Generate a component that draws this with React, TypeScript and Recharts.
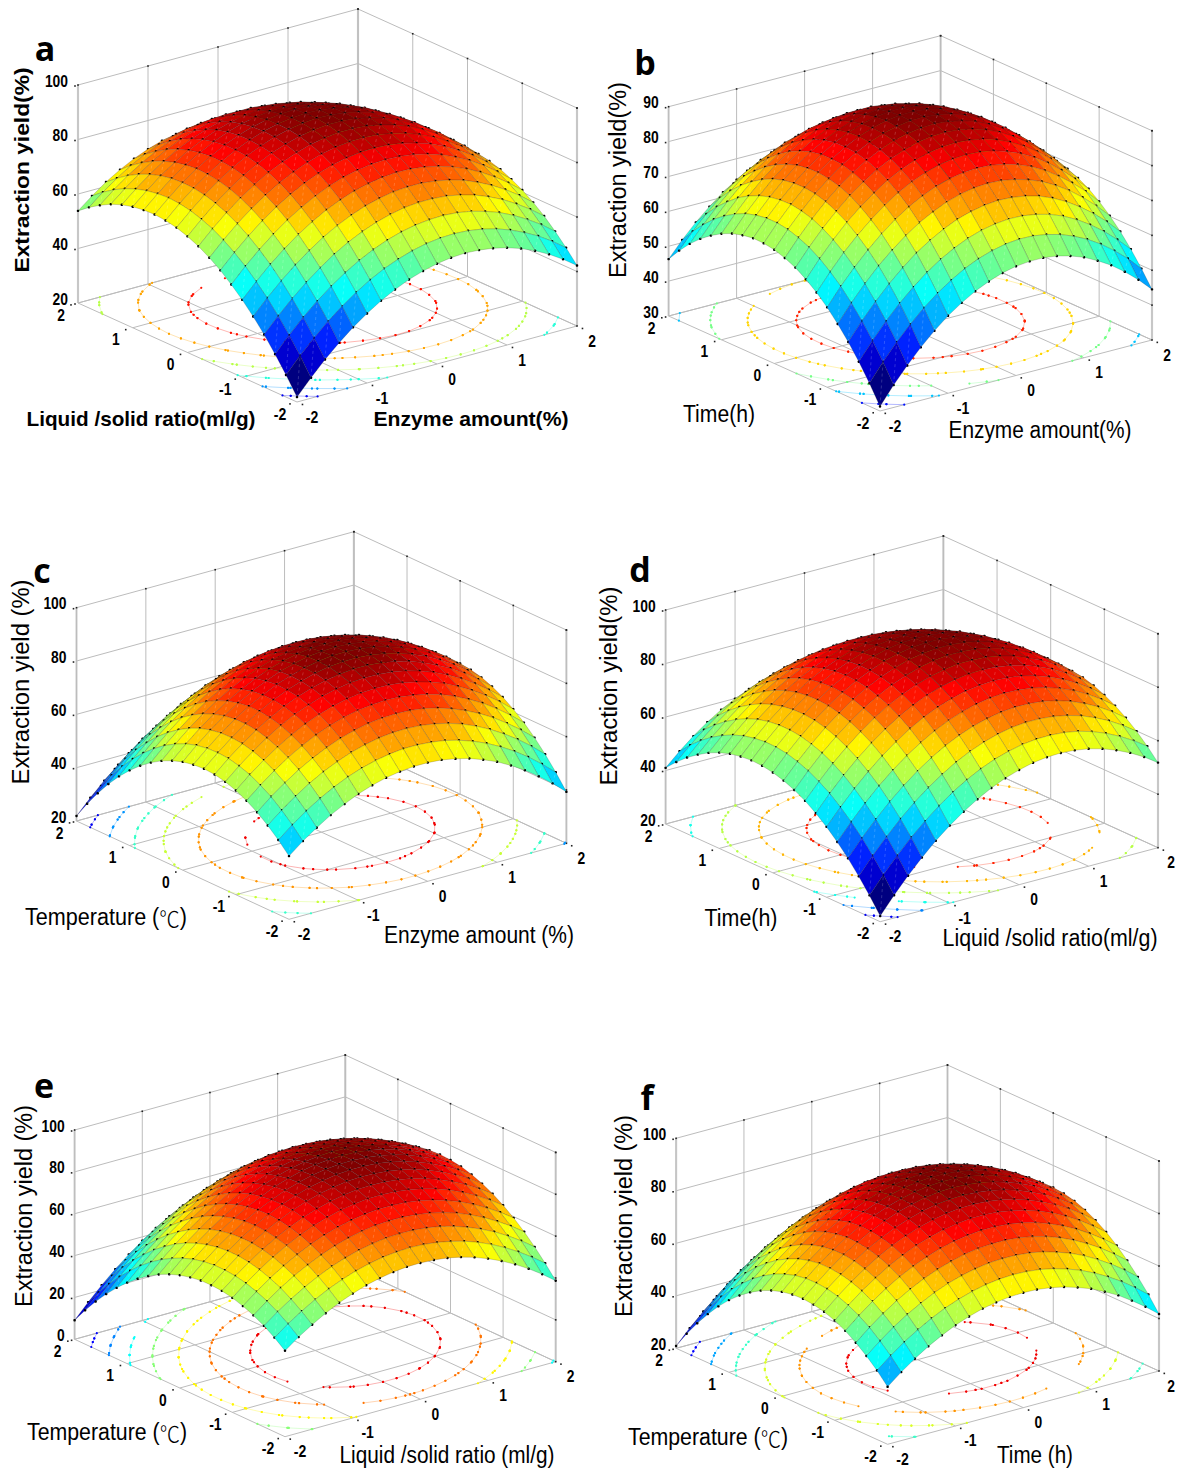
import { ScatterChart, Scatter, XAxis, YAxis } from "recharts";

const gridValues = [-2, -1.8, -1.6, -1.4, -1.2, -1, -0.8, -0.6, -0.4, -0.2, 0, 0.2, 0.4, 0.6, 0.8, 1, 1.2, 1.4, 1.6, 1.8, 2];
const axisTicks = [-2, -1, 0, 1, 2];

// extraction yield, one row per value of the left floor axis
const zA = [
  [21.8,27.5,32.8,37.5,41.8,45.5,48.8,51.5,53.8,55.5,56.8,57.6,57.9,57.6,56.9,55.7,54.0,51.8,49.1,45.9,42.2],
  [28.1,33.8,38.9,43.6,47.7,51.4,54.6,57.3,59.4,61.1,62.3,63.0,63.2,62.9,62.1,60.8,59.0,56.7,54.0,50.7,46.9],
  [33.9,39.5,44.6,49.2,53.2,56.8,59.9,62.5,64.6,66.2,67.3,67.9,68.1,67.7,66.8,65.4,63.6,61.2,58.3,55.0,51.1],
  [39.3,44.7,49.7,54.2,58.2,61.8,64.8,67.3,69.3,70.8,71.9,72.4,72.4,72.0,71.0,69.6,67.6,65.2,62.2,58.8,54.9],
  [44.1,49.5,54.4,58.8,62.7,66.2,69.1,71.5,73.5,74.9,75.9,76.3,76.3,75.7,74.7,73.2,71.1,68.6,65.6,62.1,58.1],
  [48.4,53.7,58.6,62.9,66.8,70.1,73.0,75.3,77.2,78.5,79.4,79.8,79.7,79.0,77.9,76.3,74.2,71.6,68.5,64.9,60.8],
  [52.2,57.5,62.2,66.5,70.3,73.5,76.3,78.6,80.4,81.6,82.4,82.7,82.5,81.8,80.6,78.9,76.7,74.1,70.9,67.2,63.0],
  [55.6,60.7,65.4,69.6,73.3,76.5,79.2,81.4,83.1,84.3,85.0,85.2,84.9,84.1,82.8,81.1,78.8,76.0,72.8,69.0,64.8],
  [58.4,63.5,68.1,72.2,75.8,78.9,81.5,83.6,85.3,86.4,87.0,87.1,86.8,85.9,84.6,82.7,80.4,77.5,74.2,70.3,66.0],
  [60.8,65.8,70.3,74.3,77.8,80.9,83.4,85.4,87.0,88.0,88.6,88.6,88.2,87.2,85.8,83.9,81.4,78.5,75.1,71.2,66.8],
  [62.6,67.5,72.0,75.9,79.4,82.3,84.8,86.7,88.2,89.1,89.6,89.6,89.1,88.0,86.5,84.5,82.0,79.0,75.5,71.5,67.0],
  [64.0,68.8,73.2,77.0,80.4,83.3,85.6,87.5,88.9,89.8,90.2,90.0,89.4,88.3,86.7,84.7,82.1,79.0,75.4,71.3,66.8],
  [64.8,69.6,73.9,77.6,80.9,83.7,86.0,87.8,89.1,89.9,90.2,90.0,89.3,88.2,86.5,84.3,81.6,78.5,74.8,70.7,66.0],
  [65.2,69.9,74.1,77.8,81.0,83.7,85.9,87.6,88.8,89.5,89.8,89.5,88.7,87.5,85.7,83.5,80.7,77.5,73.7,69.5,64.8],
  [65.0,69.6,73.8,77.4,80.5,83.1,85.3,86.9,88.0,88.7,88.8,88.5,87.6,86.3,84.5,82.1,79.3,76.0,72.2,67.8,63.0],
  [64.4,68.9,73.0,76.5,79.6,82.1,84.2,85.7,86.8,87.3,87.4,87.0,86.1,84.6,82.7,80.3,77.4,74.0,70.1,65.7,60.8],
  [63.3,67.7,71.7,75.1,78.1,80.6,82.5,84.0,85.0,85.5,85.5,85.0,84.0,82.5,80.5,78.0,75.0,71.5,67.5,63.0,58.1],
  [61.7,66.0,69.9,73.3,76.2,78.6,80.4,81.8,82.7,83.1,83.1,82.5,81.4,79.8,77.7,75.2,72.1,68.5,64.5,59.9,54.9],
  [59.5,63.8,67.6,70.9,73.7,76.0,77.8,79.2,80.0,80.3,80.1,79.5,78.3,76.6,74.5,71.8,68.7,65.0,60.9,56.3,51.1],
  [56.9,61.1,64.8,68.1,70.8,73.0,74.7,76.0,76.7,77.0,76.7,76.0,74.7,73.0,70.7,68.0,64.8,61.1,56.8,52.1,46.9],
  [53.8,57.9,61.6,64.7,67.4,69.5,71.2,72.3,73.0,73.1,72.8,72.0,70.7,68.8,66.5,63.7,60.4,56.6,52.3,47.5,42.2],
];

const zB = [
  [31.3,36.4,41.0,45.2,48.9,52.2,54.9,57.2,59.0,60.4,61.3,61.7,61.7,61.2,60.2,58.8,56.8,54.5,51.6,48.3,44.5],
  [36.6,41.7,46.3,50.4,54.1,57.3,60.0,62.3,64.1,65.4,66.3,66.7,66.6,66.0,65.0,63.5,61.6,59.2,56.3,53.0,49.1],
  [41.4,46.4,51.0,55.1,58.7,61.9,64.6,66.8,68.6,69.9,70.7,71.1,71.0,70.4,69.4,67.9,65.9,63.4,60.5,57.1,53.3],
  [45.7,50.7,55.2,59.3,62.9,66.1,68.7,70.9,72.7,73.9,74.7,75.1,74.9,74.3,73.3,71.7,69.7,67.2,64.3,60.9,57.0],
  [49.5,54.5,59.0,63.1,66.6,69.7,72.4,74.5,76.3,77.5,78.3,78.6,78.4,77.7,76.6,75.1,73.0,70.5,67.5,64.1,60.2],
  [52.9,57.9,62.3,66.3,69.9,73.0,75.6,77.7,79.4,80.6,81.3,81.6,81.4,80.7,79.6,78.0,75.9,73.3,70.3,66.9,62.9],
  [55.8,60.7,65.2,69.1,72.6,75.7,78.3,80.4,82.0,83.2,83.9,84.1,83.9,83.2,82.0,80.4,78.3,75.7,72.6,69.1,65.2],
  [58.2,63.1,67.5,71.5,74.9,77.9,80.5,82.6,84.2,85.3,86.0,86.2,85.9,85.2,84.0,82.3,80.2,77.6,74.5,70.9,66.9],
  [60.2,65.0,69.4,73.3,76.8,79.7,82.2,84.3,85.8,87.0,87.6,87.8,87.5,86.7,85.5,83.8,81.6,79.0,75.8,72.3,68.2],
  [61.6,66.4,70.8,74.7,78.1,81.0,83.5,85.5,87.1,88.1,88.7,88.9,88.5,87.7,86.5,84.7,82.5,79.9,76.7,73.1,69.1],
  [62.6,67.4,71.7,75.6,78.9,81.9,84.3,86.3,87.8,88.8,89.4,89.5,89.1,88.3,87.0,85.3,83.0,80.3,77.1,73.5,69.4],
  [63.1,67.9,72.2,76.0,79.3,82.2,84.6,86.6,88.0,89.1,89.6,89.7,89.3,88.4,87.1,85.3,83.0,80.3,77.1,73.4,69.3],
  [63.2,67.9,72.1,75.9,79.2,82.1,84.5,86.4,87.8,88.8,89.3,89.4,88.9,88.0,86.7,84.8,82.6,79.8,76.5,72.8,68.7],
  [62.7,67.4,71.6,75.4,78.7,81.5,83.8,85.7,87.1,88.1,88.6,88.6,88.1,87.2,85.8,83.9,81.6,78.8,75.5,71.8,67.6],
  [61.8,66.5,70.6,74.4,77.6,80.4,82.7,84.6,86.0,86.9,87.3,87.3,86.8,85.8,84.4,82.5,80.2,77.3,74.0,70.3,66.0],
  [60.4,65.0,69.2,72.9,76.1,78.9,81.1,83.0,84.3,85.2,85.6,85.6,85.0,84.0,82.6,80.7,78.3,75.4,72.1,68.3,64.0],
  [58.5,63.1,67.3,70.9,74.1,76.8,79.1,80.9,82.2,83.0,83.4,83.3,82.8,81.7,80.3,78.3,75.9,73.0,69.6,65.8,61.5],
  [56.2,60.8,64.8,68.5,71.6,74.3,76.6,78.3,79.6,80.4,80.8,80.6,80.0,79.0,77.5,75.5,73.0,70.1,66.7,62.8,58.5],
  [53.4,57.9,62.0,65.6,68.7,71.3,73.5,75.3,76.5,77.3,77.6,77.5,76.8,75.8,74.2,72.2,69.7,66.7,63.3,59.4,55.1],
  [50.1,54.6,58.6,62.2,65.3,67.9,70.0,71.7,73.0,73.7,74.0,73.8,73.2,72.0,70.5,68.4,65.9,62.9,59.4,55.5,51.1],
  [46.3,50.8,54.8,58.3,61.4,64.0,66.1,67.7,68.9,69.7,69.9,69.7,69.0,67.9,66.2,64.2,61.6,58.6,55.1,51.1,46.7],
];

const zC = [
  [43.7,47.9,51.5,54.8,57.5,59.9,61.7,63.1,64.0,64.5,64.5,64.1,63.1,61.8,59.9,57.7,54.9,51.7,48.0,43.9,39.3],
  [47.9,52.1,55.9,59.2,62.0,64.4,66.3,67.7,68.7,69.3,69.3,68.9,68.1,66.8,65.0,62.8,60.1,57.0,53.4,49.3,44.8],
  [51.5,55.8,59.6,63.0,65.9,68.3,70.3,71.8,72.9,73.5,73.6,73.3,72.5,71.3,69.6,67.4,64.8,61.7,58.2,54.2,49.7],
  [54.6,59.0,62.8,66.3,69.2,71.7,73.8,75.3,76.5,77.1,77.3,77.1,76.4,75.2,73.5,71.4,68.9,65.9,62.4,58.5,54.1],
  [57.1,61.5,65.5,69.0,72.0,74.6,76.7,78.3,79.5,80.2,80.5,80.3,79.6,78.5,77.0,74.9,72.4,69.5,66.1,62.2,57.9],
  [59.1,63.6,67.6,71.1,74.2,76.9,79.0,80.7,82.0,82.8,83.1,83.0,82.4,81.3,79.8,77.9,75.4,72.5,69.2,65.4,61.1],
  [60.5,65.0,69.1,72.7,75.9,78.6,80.8,82.6,83.9,84.8,85.2,85.1,84.6,83.6,82.1,80.2,77.9,75.0,71.7,68.0,63.8],
  [61.4,66.0,70.1,73.8,77.0,79.8,82.1,83.9,85.3,86.2,86.7,86.7,86.2,85.3,83.9,82.0,79.7,77.0,73.8,70.1,65.9],
  [61.7,66.3,70.5,74.3,77.6,80.4,82.7,84.6,86.1,87.1,87.6,87.7,87.3,86.4,85.1,83.3,81.1,78.4,75.2,71.6,67.5],
  [61.4,66.1,70.4,74.2,77.6,80.4,82.9,84.8,86.3,87.4,88.0,88.1,87.8,87.0,85.7,84.0,81.8,79.2,76.1,72.5,68.5],
  [60.6,65.4,69.7,73.6,77.0,80.0,82.4,84.5,86.0,87.2,87.8,88.0,87.7,87.0,85.8,84.2,82.0,79.5,76.4,73.0,69.0],
  [59.2,64.1,68.5,72.4,75.9,78.9,81.5,83.6,85.2,86.4,87.1,87.3,87.1,86.5,85.3,83.7,81.7,79.2,76.2,72.8,68.9],
  [57.3,62.2,66.7,70.7,74.2,77.3,79.9,82.1,83.8,85.0,85.8,86.1,86.0,85.4,84.3,82.8,80.8,78.4,75.5,72.1,68.3],
  [54.8,59.8,64.3,68.4,72.0,75.1,77.8,80.0,81.8,83.1,84.0,84.3,84.3,83.7,82.7,81.3,79.3,77.0,74.1,70.8,67.1],
  [51.8,56.8,61.4,65.6,69.2,72.4,75.2,77.5,79.3,80.6,81.6,82.0,82.0,81.5,80.6,79.2,77.3,75.0,72.2,69.0,65.3],
  [48.2,53.3,58.0,62.2,65.9,69.2,72.0,74.3,76.2,77.6,78.6,79.1,79.2,78.8,77.9,76.6,74.8,72.5,69.8,66.6,63.0],
  [44.1,49.2,53.9,58.2,62.0,65.3,68.2,70.6,72.6,74.1,75.1,75.7,75.8,75.4,74.6,73.4,71.6,69.5,66.8,63.7,60.1],
  [39.4,44.6,49.4,53.7,57.5,60.9,63.9,66.4,68.4,69.9,71.0,71.7,71.9,71.6,70.8,69.6,68.0,65.8,63.3,60.2,56.7],
  [34.1,39.4,44.2,48.6,52.5,56.0,59.0,61.5,63.6,65.3,66.4,67.1,67.4,67.1,66.5,65.3,63.7,61.7,59.2,56.2,52.7],
  [28.3,33.6,38.5,43.0,47.0,50.5,53.6,56.2,58.3,60.0,61.2,62.0,62.3,62.2,61.5,60.5,58.9,56.9,54.5,51.6,48.2],
  [21.9,27.3,32.3,36.8,40.9,44.5,47.6,50.3,52.5,54.2,55.5,56.3,56.7,56.6,56.1,55.1,53.6,51.7,49.3,46.4,43.1],
];

const zD = [
  [22.1,28.5,34.4,39.8,44.7,49.0,52.8,56.1,58.9,61.2,62.9,64.2,64.9,65.1,64.7,63.9,62.5,60.6,58.2,55.3,51.8],
  [28.0,34.3,40.1,45.5,50.2,54.5,58.3,61.5,64.2,66.4,68.0,69.2,69.8,69.9,69.5,68.6,67.1,65.1,62.6,59.6,56.1],
  [33.3,39.6,45.3,50.6,55.3,59.5,63.1,66.3,68.9,71.0,72.6,73.7,74.2,74.2,73.7,72.7,71.2,69.1,66.6,63.5,59.9],
  [38.2,44.4,50.0,55.2,59.8,63.9,67.5,70.6,73.1,75.1,76.6,77.6,78.1,78.0,77.5,76.4,74.8,72.6,70.0,66.8,63.1],
  [42.5,48.6,54.2,59.3,63.8,67.8,71.3,74.3,76.8,78.7,80.2,81.1,81.5,81.3,80.7,79.5,77.8,75.6,72.9,69.6,65.8],
  [46.3,52.3,57.8,62.8,67.3,71.2,74.7,77.6,80.0,81.8,83.2,84.0,84.3,84.1,83.4,82.1,80.3,78.0,75.2,71.9,68.0],
  [49.6,55.6,61.0,65.9,70.3,74.1,77.5,80.3,82.6,84.4,85.7,86.4,86.6,86.3,85.5,84.2,82.3,80.0,77.1,73.7,69.7],
  [52.4,58.2,63.6,68.4,72.7,76.5,79.8,82.5,84.7,86.4,87.6,88.3,88.4,88.1,87.2,85.8,83.8,81.4,78.4,74.9,70.9],
  [54.6,60.4,65.7,70.4,74.6,78.3,81.5,84.2,86.3,88.0,89.1,89.7,89.7,89.3,88.3,86.8,84.8,82.3,79.2,75.6,71.5],
  [56.3,62.0,67.2,71.9,76.0,79.7,82.8,85.4,87.4,89.0,90.0,90.5,90.5,90.0,88.9,87.3,85.2,82.6,79.5,75.8,71.7],
  [57.5,63.2,68.3,72.9,76.9,80.5,83.5,86.0,88.0,89.5,90.4,90.8,90.7,90.1,89.0,87.3,85.2,82.5,79.3,75.5,71.3],
  [58.2,63.8,68.8,73.3,77.3,80.8,83.7,86.1,88.0,89.4,90.3,90.6,90.5,89.8,88.6,86.8,84.6,81.8,78.5,74.7,70.4],
  [58.4,63.9,68.8,73.2,77.1,80.5,83.4,85.7,87.6,88.9,89.7,89.9,89.7,88.9,87.6,85.8,83.5,80.6,77.2,73.3,68.9],
  [58.0,63.4,68.3,72.6,76.5,79.8,82.6,84.8,86.6,87.8,88.5,88.7,88.4,87.5,86.1,84.2,81.8,78.9,75.4,71.5,67.0],
  [57.2,62.5,67.3,71.5,75.3,78.5,81.2,83.4,85.1,86.2,86.8,86.9,86.5,85.6,84.1,82.2,79.7,76.6,73.1,69.1,64.5],
  [55.8,61.0,65.7,69.9,73.6,76.7,79.3,81.4,83.0,84.1,84.6,84.7,84.2,83.2,81.6,79.6,77.0,73.9,70.3,66.1,61.5],
  [53.9,59.0,63.6,67.7,71.3,74.4,76.9,79.0,80.5,81.5,81.9,81.9,81.3,80.2,78.6,76.5,73.8,70.6,66.9,62.7,58.0],
  [51.4,56.5,61.0,65.1,68.6,71.6,74.0,76.0,77.4,78.3,78.7,78.6,77.9,76.7,75.0,72.8,70.1,66.8,63.1,58.8,53.9],
  [48.5,53.5,57.9,61.9,65.3,68.2,70.6,72.5,73.8,74.6,74.9,74.7,74.0,72.7,71.0,68.7,65.9,62.5,58.7,54.3,49.4],
  [45.0,49.9,54.3,58.2,61.5,64.3,66.6,68.4,69.7,70.4,70.7,70.4,69.5,68.2,66.4,64.0,61.1,57.7,53.7,49.3,44.3],
  [41.0,45.8,50.1,53.9,57.2,59.9,62.2,63.9,65.1,65.7,65.9,65.5,64.6,63.2,61.2,58.8,55.8,52.3,48.3,43.8,38.7],
];

const zE = [
  [41.1,45.8,49.9,53.6,56.8,59.4,61.6,63.2,64.3,65.0,65.1,64.7,63.9,62.5,60.6,58.2,55.3,51.9,48.0,43.6,38.7],
  [45.0,49.8,54.0,57.8,61.1,63.8,66.1,67.8,69.1,69.8,70.1,69.8,69.0,67.7,66.0,63.7,60.9,57.6,53.8,49.5,44.7],
  [48.3,53.2,57.5,61.4,64.8,67.7,70.0,71.9,73.2,74.1,74.4,74.3,73.6,72.5,70.8,68.6,65.9,62.8,59.1,54.9,50.2],
  [51.0,56.0,60.5,64.5,67.9,70.9,73.4,75.4,76.8,77.8,78.2,78.2,77.6,76.6,75.0,73.0,70.4,67.3,63.7,59.7,55.1],
  [53.1,58.2,62.8,66.9,70.5,73.6,76.2,78.2,79.8,80.9,81.5,81.5,81.1,80.1,78.7,76.7,74.3,71.3,67.8,63.9,59.4],
  [54.7,59.9,64.6,68.8,72.5,75.7,78.4,80.6,82.3,83.4,84.1,84.3,83.9,83.1,81.8,79.9,77.6,74.7,71.3,67.5,63.1],
  [55.7,61.0,65.8,70.1,73.9,77.2,80.0,82.3,84.1,85.4,86.2,86.5,86.2,85.5,84.3,82.5,80.3,77.5,74.3,70.5,66.3],
  [56.1,61.5,66.5,70.9,74.8,78.2,81.1,83.5,85.4,86.8,87.7,88.1,87.9,87.3,86.2,84.6,82.4,79.8,76.6,73.0,68.8],
  [56.0,61.5,66.5,71.0,75.1,78.6,81.6,84.1,86.1,87.6,88.6,89.1,89.1,88.6,87.5,86.0,84.0,81.5,78.4,74.9,70.8],
  [55.2,60.9,66.0,70.6,74.8,78.4,81.5,84.1,86.2,87.8,88.9,89.5,89.6,89.2,88.3,86.9,85.0,82.5,79.6,76.2,72.3],
  [53.9,59.7,64.9,69.6,73.9,77.6,80.8,83.6,85.8,87.5,88.7,89.4,89.6,89.3,88.5,87.2,85.4,83.1,80.3,76.9,73.1],
  [52.0,57.9,63.2,68.1,72.4,76.3,79.6,82.4,84.7,86.6,87.9,88.7,89.0,88.8,88.1,86.9,85.2,83.0,80.3,77.1,73.4],
  [49.6,55.5,61.0,65.9,70.4,74.3,77.8,80.7,83.2,85.1,86.5,87.4,87.9,87.8,87.2,86.1,84.5,82.4,79.8,76.7,73.1],
  [46.5,52.6,58.2,63.2,67.8,71.8,75.4,78.4,81.0,83.0,84.6,85.6,86.1,86.1,85.7,84.7,83.2,81.2,78.7,75.7,72.2],
  [42.9,49.1,54.7,59.9,64.6,68.8,72.4,75.6,78.2,80.4,82.0,83.2,83.8,83.9,83.6,82.7,81.3,79.4,77.0,74.1,70.7],
  [38.7,45.0,50.8,56.1,60.8,65.1,68.9,72.1,74.9,77.2,78.9,80.2,80.9,81.1,80.9,80.1,78.8,77.1,74.8,72.0,68.7],
  [33.9,40.3,46.2,51.6,56.5,60.9,64.8,68.1,71.0,73.4,75.2,76.6,77.4,77.8,77.6,77.0,75.8,74.1,71.9,69.3,66.1],
  [28.6,35.1,41.1,46.6,51.6,56.1,60.1,63.5,66.5,69.0,71.0,72.4,73.4,73.8,73.8,73.2,72.2,70.6,68.6,66.0,62.9],
  [22.7,29.3,35.4,41.0,46.1,50.7,54.8,58.4,61.5,64.0,66.1,67.7,68.8,69.3,69.4,68.9,68.0,66.5,64.6,62.1,59.2],
  [16.2,22.9,29.1,34.8,40.0,44.7,48.9,52.6,55.8,58.5,60.7,62.4,63.5,64.2,64.4,64.1,63.2,61.9,60.0,57.7,54.8],
  [9.1,15.9,22.3,28.1,33.4,38.2,42.5,46.3,49.6,52.4,54.7,56.5,57.8,58.6,58.8,58.6,57.9,56.6,54.9,52.7,49.9],
];

const zF = [
  [41.9,46.1,49.8,53.1,55.9,58.4,60.3,61.9,62.9,63.6,63.8,63.6,62.9,61.8,60.2,58.3,55.8,53.0,49.6,45.9,41.7],
  [46.3,50.5,54.3,57.6,60.5,63.0,65.0,66.6,67.8,68.5,68.8,68.6,68.0,66.9,65.4,63.5,61.1,58.3,55.1,51.4,47.3],
  [50.0,54.3,58.2,61.6,64.5,67.1,69.2,70.8,72.0,72.8,73.1,73.0,72.5,71.5,70.0,68.2,65.9,63.1,59.9,56.3,52.2],
  [53.2,57.6,61.5,65.0,68.0,70.6,72.7,74.4,75.7,76.5,76.9,76.9,76.4,75.5,74.1,72.3,70.0,67.3,64.2,60.6,56.6],
  [55.9,60.3,64.3,67.8,70.9,73.5,75.7,77.5,78.8,79.7,80.2,80.2,79.8,78.9,77.6,75.8,73.6,71.0,67.9,64.4,60.5],
  [58.0,62.4,66.5,70.0,73.2,75.9,78.2,80.0,81.4,82.3,82.9,82.9,82.6,81.7,80.5,78.8,76.7,74.1,71.1,67.6,63.8],
  [59.5,64.0,68.1,71.7,74.9,77.7,80.0,81.9,83.4,84.4,85.0,85.1,84.8,84.0,82.8,81.2,79.1,76.6,73.7,70.3,66.5],
  [60.4,65.0,69.1,72.8,76.1,78.9,81.3,83.3,84.8,85.9,86.5,86.7,86.4,85.7,84.6,83.0,81.0,78.6,75.7,72.4,68.6],
  [60.8,65.4,69.6,73.4,76.7,79.6,82.1,84.1,85.6,86.8,87.5,87.7,87.5,86.9,85.8,84.3,82.4,80.0,77.1,73.9,70.2],
  [60.6,65.3,69.6,73.4,76.8,79.7,82.2,84.3,85.9,87.1,87.9,88.2,88.1,87.5,86.5,85.0,83.1,80.8,78.0,74.8,71.2],
  [59.8,64.6,68.9,72.8,76.2,79.3,81.8,84.0,85.6,86.9,87.7,88.1,88.0,87.5,86.5,85.2,83.3,81.1,78.3,75.2,71.6],
  [58.5,63.3,67.7,71.6,75.2,78.2,80.9,83.0,84.8,86.1,87.0,87.4,87.4,86.9,86.1,84.7,83.0,80.7,78.1,75.0,71.5],
  [56.6,61.5,65.9,69.9,73.5,76.6,79.3,81.6,83.4,84.7,85.7,86.2,86.2,85.8,85.0,83.7,82.0,79.9,77.3,74.2,70.8],
  [54.1,59.0,63.6,67.6,71.3,74.4,77.2,79.5,81.4,82.8,83.8,84.3,84.5,84.1,83.4,82.1,80.5,78.4,75.9,72.9,69.5],
  [51.1,56.1,60.6,64.8,68.5,71.7,74.5,76.9,78.8,80.3,81.4,82.0,82.1,81.9,81.2,80.0,78.4,76.4,73.9,71.0,67.7],
  [47.5,52.5,57.2,61.3,65.1,68.4,71.3,73.7,75.7,77.2,78.4,79.0,79.3,79.0,78.4,77.3,75.8,73.8,71.4,68.5,65.3],
  [43.3,48.4,53.1,57.4,61.2,64.5,67.5,70.0,72.0,73.6,74.8,75.5,75.8,75.7,75.1,74.0,72.6,70.7,68.3,65.5,62.3],
  [38.5,43.7,48.5,52.8,56.7,60.1,63.1,65.6,67.7,69.4,70.6,71.4,71.8,71.7,71.2,70.2,68.8,66.9,64.6,61.9,58.7],
  [33.2,38.5,43.3,47.7,51.6,55.1,58.1,60.7,62.9,64.6,65.9,66.8,67.2,67.2,66.7,65.8,64.4,62.6,60.4,57.7,54.6],
  [27.4,32.7,37.5,42.0,46.0,49.5,52.6,55.3,57.5,59.3,60.7,61.6,62.0,62.1,61.7,60.8,59.5,57.8,55.6,53.0,50.0],
  [20.9,26.3,31.2,35.7,39.7,43.4,46.5,49.3,51.5,53.4,54.8,55.8,56.3,56.4,56.0,55.3,54.0,52.4,50.2,47.7,44.7],
];

const ticksA = [20, 40, 60, 80, 100];
const ticksB = [30, 40, 50, 60, 70, 80, 90];
const ticksE = [0, 20, 40, 60, 80, 100];

const levelsA = [30, 40, 50, 60, 70, 80];
const levelsB = [40, 50, 60, 70, 80];
const levelsE = [20, 30, 40, 50, 60, 70, 80];

const SANS = '"Liberation Sans", "Noto Sans CJK SC", sans-serif';

const panels = [
  {
    letter: "a", letterAt: [45, 48], z: zA, zTicks: ticksA, levels: levelsA, bold: true,
    box: [0, 0, 600, 450], front: [297, 402], left: [78, 303], right: [577, 326], wall: 218,
    titles: [
      { text: "Extraction yield(%)", at: [21, 170], w: 205, rot: true },
      { text: "Liquid /solid ratio(ml/g)", at: [141, 418], w: 229 },
      { text: "Enzyme amount(%)", at: [471, 418], w: 195 },
    ],
  },
  {
    letter: "b", letterAt: [645, 62], z: zB, zTicks: ticksB, levels: levelsB, bold: false,
    box: [595, 10, 582, 450], front: [880, 411], left: [668.6, 316], right: [1152, 340], wall: 209.3,
    titles: [
      { text: "Extraction yield(%)", at: [618, 180], w: 196, rot: true },
      { text: "Time(h)", at: [719, 414], w: 72 },
      { text: "Enzyme amount(%)", at: [1040, 430], w: 183 },
    ],
  },
  {
    letter: "c", letterAt: [42, 570], z: zC, zTicks: ticksA, levels: levelsA, bold: false,
    box: [0, 520, 600, 450], front: [289, 919.3], left: [76.5, 821], right: [566.4, 843.3], wall: 213.3,
    titles: [
      { text: "Extraction yield (%)", at: [21, 682], w: 205, rot: true },
      { text: "Temperature (℃)", at: [106, 917], w: 162 },
      { text: "Enzyme amount (%)", at: [479, 935], w: 190 },
    ],
  },
  {
    letter: "d", letterAt: [640, 569], z: zD, zTicks: ticksA, levels: levelsA, bold: false,
    box: [595, 520, 582, 450], front: [880.2, 921.7], left: [665.6, 824], right: [1158, 847.7], wall: 214,
    titles: [
      { text: "Extraction yield(%)", at: [609, 686], w: 199, rot: true },
      { text: "Time(h)", at: [741, 918], w: 73 },
      { text: "Liquid /solid ratio(ml/g)", at: [1050, 938], w: 215 },
    ],
  },
  {
    letter: "e", letterAt: [44, 1085], z: zE, zTicks: ticksE, levels: levelsE, bold: false,
    box: [0, 1040, 600, 429], front: [285, 1436.7], left: [74.6, 1339.3], right: [555.7, 1361.7], wall: 209.3,
    titles: [
      { text: "Extraction yield (%)", at: [24, 1206], w: 202, rot: true },
      { text: "Temperature (℃)", at: [107, 1432], w: 160 },
      { text: "Liquid /solid ratio (ml/g)", at: [447, 1455], w: 215 },
    ],
  },
  {
    letter: "f", letterAt: [647, 1097], z: zF, zTicks: ticksA, levels: levelsA, bold: false,
    box: [595, 1040, 582, 429], front: [887.6, 1444.3], left: [676.1, 1348.3], right: [1159, 1371], wall: 210,
    titles: [
      { text: "Extraction yield (%)", at: [624, 1216], w: 202, rot: true },
      { text: "Temperature (℃)", at: [708, 1437], w: 160 },
      { text: "Time (h)", at: [1035, 1455], w: 76 },
    ],
  },
];

type Panel = (typeof panels)[number];

const jet = (t: number) => {
  const q = Math.min(63, Math.max(0, Math.floor(t * 64))) / 63;
  const ch = (c: number) => Math.round(255 * Math.min(1, Math.max(0, 1.5 - Math.abs(4 * q - c))));
  return `rgb(${ch(3)},${ch(2)},${ch(1)})`;
};

const project = (p: Panel, x: number, y: number, z: number) => {
  const u = (x + 2) / 4;
  const v = (y + 2) / 4;
  const lo = p.zTicks[0];
  const hi = p.zTicks[p.zTicks.length - 1];
  return {
    px: p.front[0] + u * (p.right[0] - p.front[0]) + v * (p.left[0] - p.front[0]),
    py: p.front[1] + u * (p.right[1] - p.front[1]) + v * (p.left[1] - p.front[1]) - ((z - lo) / (hi - lo)) * p.wall,
  };
};

// wall and floor grid, as pairs of points
const boxSegments = (p: Panel) => {
  const lo = p.zTicks[0];
  const hi = p.zTicks[p.zTicks.length - 1];
  const out: { px: number; py: number }[] = [];
  axisTicks.forEach((t) => {
    out.push(project(p, t, -2, lo), project(p, t, 2, lo));
    out.push(project(p, -2, t, lo), project(p, 2, t, lo));
    out.push(project(p, t, 2, lo), project(p, t, 2, hi));
    out.push(project(p, 2, t, lo), project(p, 2, t, hi));
  });
  p.zTicks.forEach((z) => {
    out.push(project(p, -2, 2, z), project(p, 2, 2, z));
    out.push(project(p, 2, 2, z), project(p, 2, -2, z));
  });
  return out;
};

// the heavier vertical edges at the corners of the walls
const cornerEdges = (p: Panel) => {
  const lo = p.zTicks[0];
  const hi = p.zTicks[p.zTicks.length - 1];
  return [
    project(p, -2, 2, lo), project(p, -2, 2, hi),
    project(p, 2, 2, lo), project(p, 2, 2, hi),
    project(p, 2, -2, lo), project(p, 2, -2, hi),
  ];
};

const tickMarks = (p: Panel) => {
  const lo = p.zTicks[0];
  const hi = p.zTicks[p.zTicks.length - 1];
  const out: { px: number; py: number }[] = [];
  axisTicks.forEach((t) => {
    out.push(project(p, t, 2, hi), project(p, 2, t, hi));
    out.push(project(p, t, -2.1, lo), project(p, -2.1, t, lo));
  });
  p.zTicks.forEach((z) => {
    const a = project(p, -2, 2, z);
    out.push({ px: a.px - 3, py: a.py + 1 }, project(p, 2, -2, z));
  });
  return out;
};

// crossings of each contour level with the grid edges, pairs per cell, on the floor
const contourPoints = (p: Panel, level: number) => {
  const lo = p.zTicks[0];
  const out: { px: number; py: number }[] = [];
  const cross = (x1: number, y1: number, z1: number, x2: number, y2: number, z2: number) => {
    if ((z1 - level) * (z2 - level) >= 0) return null;
    const f = (level - z1) / (z2 - z1);
    return project(p, x1 + f * (x2 - x1), y1 + f * (y2 - y1), lo);
  };
  for (let j = 0; j < 20; j++) {
    for (let i = 0; i < 20; i++) {
      const [x0, x1, y0, y1] = [gridValues[i], gridValues[i + 1], gridValues[j], gridValues[j + 1]];
      const [a, b, c, d] = [p.z[j][i], p.z[j][i + 1], p.z[j + 1][i + 1], p.z[j + 1][i]];
      const hits = [
        cross(x0, y0, a, x1, y0, b),
        cross(x1, y0, b, x1, y1, c),
        cross(x1, y1, c, x0, y1, d),
        cross(x0, y1, d, x0, y0, a),
      ].filter(Boolean) as { px: number; py: number }[];
      if (hits.length >= 2) out.push(hits[0], hits[1]);
    }
  }
  return out;
};

const noMark = () => <g />;

const drawPairs = (stroke: string, width: number, opacity = 1) => (props: any) => {
  const pts = props.points;
  const lines = [];
  for (let k = 0; k + 1 < pts.length; k += 2) {
    lines.push(
      <line key={k} x1={pts[k].x} y1={pts[k].y} x2={pts[k + 1].x} y2={pts[k + 1].y}
        stroke={stroke} strokeWidth={width} strokeOpacity={opacity} />
    );
  }
  return <g>{lines}</g>;
};

// back to front, so nearer cells cover the far ones
const drawSurface = (p: Panel) => (props: any) => {
  const pts = props.points;
  const flat = p.z.flat();
  const min = Math.min(...flat);
  const max = Math.max(...flat);
  const at = (i: number, j: number) => pts[j * 21 + i];
  const out = [];
  const dot = (i: number, j: number) => (
    <rect key={`d${i}-${j}`} x={at(i, j).x - 1.2} y={at(i, j).y - 1.2} width={2.4} height={2.4} rx={0.8} fill="#000" />
  );
  for (let j = 19; j >= 0; j--) {
    for (let i = 19; i >= 0; i--) {
      const corners = [at(i, j), at(i + 1, j), at(i + 1, j + 1), at(i, j + 1)];
      out.push(
        <polygon key={`q${i}-${j}`} points={corners.map((c) => `${c.x},${c.y}`).join(" ")}
          fill={jet((p.z[j][i] - min) / (max - min))} stroke="#222" strokeOpacity={0.4} strokeWidth={0.5} />
      );
      // faint seam across each cell, as the renderer of the original left it
      out.push(
        <line key={`s${i}-${j}`} x1={corners[0].x} y1={corners[0].y} x2={corners[2].x} y2={corners[2].y}
          stroke="#fff" strokeOpacity={0.3} strokeWidth={0.6} strokeDasharray="3 3" />
      );
      if (i === 19) out.push(dot(20, j));
      if (j === 19) out.push(dot(i, 20));
      if (i === 19 && j === 19) out.push(dot(20, 20));
      out.push(dot(i, j));
    }
  }
  return <g>{out}</g>;
};

const labelShape = (props: any) => {
  const d = props.payload;
  const parts = String(d.text).split("℃");
  return (
    <text x={props.cx} y={props.cy} textAnchor={d.anchor || "middle"} dominantBaseline="central"
      fontFamily={d.family || SANS} fontSize={d.size} fontWeight={d.weight || "normal"} fill="#000"
      textLength={d.w} lengthAdjust={d.w ? "spacingAndGlyphs" : undefined}
      transform={d.rot ? `rotate(-90 ${props.cx} ${props.cy})` : undefined}>
      {parts.length > 1 ? (
        <>
          {parts[0]}
          <tspan fontFamily='"Noto Sans CJK SC"' fontSize={d.size * 0.95} fontWeight={300}>℃</tspan>
          {parts[1]}
        </>
      ) : (
        d.text
      )}
    </text>
  );
};

const tickWidth = (t: number) => (t < 0 ? 4.8 : 0) + String(Math.abs(t)).length * 7.7;

const tickLabels = (p: Panel) => {
  const lo = p.zTicks[0];
  const out: any[] = [];
  axisTicks.forEach((t) => {
    const a = project(p, t, -2, lo);
    const b = project(p, -2, t, lo);
    out.push({ px: Math.min(a.px + 15, 1171), py: a.py + 15, text: String(t), size: 16, weight: "bold", w: tickWidth(t) });
    out.push({ px: b.px - 17, py: b.py + 12, text: String(t), size: 16, weight: "bold", w: tickWidth(t) });
  });
  p.zTicks.forEach((z) => {
    const c = project(p, -2, 2, z);
    out.push({ px: c.px - 10, py: c.py - 4, text: String(z), size: 16, weight: "bold", w: tickWidth(z), anchor: "end" });
  });
  return out;
};

const titleLabels = (p: Panel) => [
  ...p.titles.map((t: any) => ({
    px: t.at[0], py: t.at[1], text: t.text, w: t.w, rot: t.rot, size: p.bold ? 21 : 23, weight: p.bold ? "bold" : "normal",
  })),
  { px: p.letterAt[0], py: p.letterAt[1], text: p.letter, size: 34, weight: "bold", family: '"Open Sans", sans-serif' },
];

const SurfacePanel = ({ p }: { p: Panel }) => {
  const [left, top, width, height] = p.box;
  const flat = p.z.flat();
  const min = Math.min(...flat);
  const max = Math.max(...flat);
  const mesh = p.z.flatMap((row, j) => row.map((v, i) => project(p, gridValues[i], gridValues[j], v)));
  return (
    <div style={{ position: "absolute", left, top, width, height }}>
      <ScatterChart width={width} height={height} margin={{ top: 0, right: 0, bottom: 0, left: 0 }}>
        <XAxis type="number" dataKey="px" domain={[left, left + width]} hide />
        <YAxis type="number" dataKey="py" domain={[top, top + height]} reversed hide />
        <Scatter data={cornerEdges(p)} line={drawPairs("#d2d2d2", 2.2)} shape={noMark} isAnimationActive={false} />
        <Scatter data={boxSegments(p)} line={drawPairs("#bcbcbc", 1)} shape={noMark} isAnimationActive={false} />
        <Scatter data={tickMarks(p)} shape={(s: any) => <rect x={s.cx - 0.8} y={s.cy - 0.8} width={1.6} height={1.6} fill="#222" />} isAnimationActive={false} />
        {p.levels.map((level) => {
          const color = jet((level - min) / (max - min));
          return (
            <Scatter key={level} data={contourPoints(p, level)} line={drawPairs(color, 0.6, 0.5)}
              shape={(s: any) => <circle cx={s.cx} cy={s.cy} r={1.1} fill={color} />} isAnimationActive={false} />
          );
        })}
        <Scatter data={mesh} line={drawSurface(p)} shape={noMark} isAnimationActive={false} />
        <Scatter data={tickLabels(p)} shape={labelShape} isAnimationActive={false} />
        <Scatter data={titleLabels(p)} shape={labelShape} isAnimationActive={false} />
      </ScatterChart>
    </div>
  );
};

export default function App() {
  return (
    <div style={{ position: "absolute", left: 0, top: 0, width: 1177, height: 1469, background: "#fff" }}>
      {panels.map((p) => (
        <SurfacePanel key={p.letter} p={p} />
      ))}
    </div>
  );
}
